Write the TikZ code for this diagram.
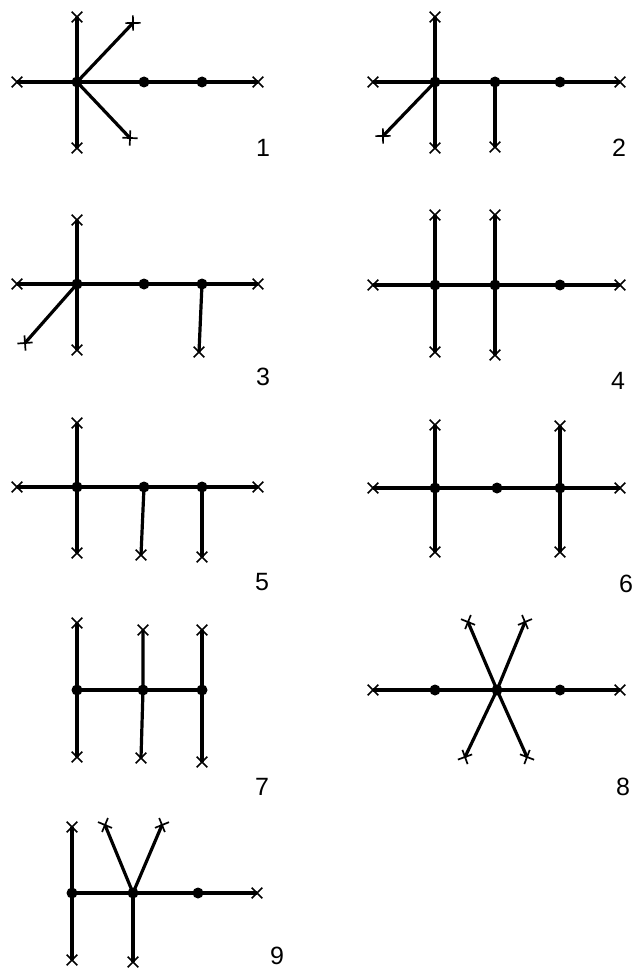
\documentclass[tikz,border=0pt]{standalone}
\usepackage{fontspec}
\setmainfont{Liberation Sans}
\usetikzlibrary{shapes.misc}

\begin{document}
\begin{tikzpicture}[x=1pt, y=-1pt,
		dot/.style={circle, fill=black, inner sep=0pt, minimum size=11pt},
		leaf/.style={cross out, draw, line width=1.7pt, inner sep=0pt, minimum size=9pt},
		edge/.style={line width=3.2pt},
		num/.style={font=\fontsize{25}{28}\selectfont}
		]
		
		\useasboundingbox (0,0) rectangle (636,971);
		
		% Graph 1
		\node[dot] (a1) at (77,82) {};
		\node[dot] (a2) at (144,82) {};
		\node[dot] (a3) at (202,82) {};
		\node[leaf] (a4) at (17,82) {};
		\node[leaf] (a5) at (258,82) {};
		\node[leaf] (a6) at (77,17) {};
		\node[leaf] (a7) at (77,148) {};
		\node[leaf, rotate=46] (a8) at (133,23) {};
		\node[leaf, rotate=-47] (a9) at (130,138) {};
		\node[num] (n1) at (263,148) {1};
		\draw[edge] (a4.center) -- (a1.center) -- (a2.center) -- (a3.center) -- (a5.center);
		\draw[edge] (a6.center) -- (a1.center) -- (a7.center);
		\draw[edge] (a8.center) -- (a1.center) -- (a9.center);
		
		% Graph 2
		\node[dot] (b1) at (435,82) {};
		\node[dot] (b2) at (495,82) {};
		\node[dot] (b3) at (560,82) {};
		\node[leaf] (b4) at (373,82) {};
		\node[leaf] (b5) at (620,82) {};
		\node[leaf] (b6) at (435,17) {};
		\node[leaf] (b7) at (435,148) {};
		\node[leaf] (b8) at (495,147) {};
		\node[leaf, rotate=46] (b9) at (383,136) {};
		\node[num] (n2) at (619,148) {2};
		\draw[edge] (b4.center) -- (b1.center) -- (b2.center) -- (b3.center) -- (b5.center);
		\draw[edge] (b6.center) -- (b1.center) -- (b7.center);
		\draw[edge] (b2.center) -- (b8.center);
		\draw[edge] (b1.center) -- (b9.center);
		
		% Graph 3
		\node[dot] (c1) at (77,284) {};
		\node[dot] (c2) at (144,284) {};
		\node[dot] (c3) at (202,284) {};
		\node[leaf] (c4) at (17,284) {};
		\node[leaf] (c5) at (258,284) {};
		\node[leaf] (c6) at (77,220) {};
		\node[leaf] (c7) at (77,350) {};
		\node[leaf] (c8) at (199,352) {};
		\node[leaf, rotate=49] (c9) at (25,343) {};
		\node[num] (n3) at (263,377) {3};
		\draw[edge] (c4.center) -- (c1.center) -- (c2.center) -- (c3.center) -- (c5.center);
		\draw[edge] (c6.center) -- (c1.center) -- (c7.center);
		\draw[edge] (c3.center) -- (c8.center);
		\draw[edge] (c1.center) -- (c9.center);
		
		% Graph 4
		\node[dot] (d1) at (435,285) {};
		\node[dot] (d2) at (495,285) {};
		\node[dot] (d3) at (560,285) {};
		\node[leaf] (d4) at (373,285) {};
		\node[leaf] (d5) at (620,285) {};
		\node[leaf] (d6) at (435,215) {};
		\node[leaf] (d7) at (435,352) {};
		\node[leaf] (d8) at (495,215) {};
		\node[leaf] (d9) at (495,355) {};
		\node[num] (n4) at (618,381) {4};
		\draw[edge] (d4.center) -- (d1.center) -- (d2.center) -- (d3.center) -- (d5.center);
		\draw[edge] (d6.center) -- (d1.center) -- (d7.center);
		\draw[edge] (d8.center) -- (d2.center) -- (d9.center);
		
		% Graph 5
		\node[dot] (e1) at (77,487) {};
		\node[dot] (e2) at (144,487) {};
		\node[dot] (e3) at (202,487) {};
		\node[leaf] (e4) at (17,487) {};
		\node[leaf] (e5) at (258,487) {};
		\node[leaf] (e6) at (77,423) {};
		\node[leaf] (e7) at (77,553) {};
		\node[leaf] (e8) at (141,555) {};
		\node[leaf] (e9) at (202,557) {};
		\node[num] (n5) at (262,582) {5};
		\draw[edge] (e4.center) -- (e1.center) -- (e2.center) -- (e3.center) -- (e5.center);
		\draw[edge] (e6.center) -- (e1.center) -- (e7.center);
		\draw[edge] (e2.center) -- (e8.center);
		\draw[edge] (e3.center) -- (e9.center);
		
		% Graph 6
		\node[dot] (f1) at (435,488) {};
		\node[dot] (f2) at (497,488) {};
		\node[dot] (f3) at (560,488) {};
		\node[leaf] (f4) at (373,488) {};
		\node[leaf] (f5) at (620,488) {};
		\node[leaf] (f6) at (435,425) {};
		\node[leaf] (f7) at (435,552) {};
		\node[leaf] (f8) at (560,426) {};
		\node[leaf] (f9) at (560,552) {};
		\node[num] (n6) at (626,584) {6};
		\draw[edge] (f4.center) -- (f1.center) -- (f2.center) -- (f3.center) -- (f5.center);
		\draw[edge] (f6.center) -- (f1.center) -- (f7.center);
		\draw[edge] (f8.center) -- (f3.center) -- (f9.center);
		
		% Graph 7
		\node[dot] (g1) at (77,690) {};
		\node[dot] (g2) at (143,690) {};
		\node[dot] (g3) at (202,690) {};
		\node[leaf] (g4) at (77,623) {};
		\node[leaf] (g5) at (77,757) {};
		\node[leaf] (g6) at (143,630) {};
		\node[leaf] (g7) at (141,758) {};
		\node[leaf] (g8) at (202,630) {};
		\node[leaf] (g9) at (202,762) {};
		\node[num] (n7) at (262,787) {7};
		\draw[edge] (g1.center) -- (g2.center) -- (g3.center);
		\draw[edge] (g4.center) -- (g1.center) -- (g5.center);
		\draw[edge] (g6.center) -- (g2.center) -- (g7.center);
		\draw[edge] (g8.center) -- (g3.center) -- (g9.center);
		
		% Graph 8
		\node[dot] (h1) at (435,690) {};
		\node[dot] (h2) at (497,690) {};
		\node[dot] (h3) at (560,690) {};
		\node[leaf] (h4) at (373,690) {};
		\node[leaf] (h5) at (620,690) {};
		\node[leaf, rotate=113] (h6) at (468,622) {};
		\node[leaf, rotate=68] (h7) at (525,622) {};
		\node[leaf, rotate=-115] (h8) at (465,757) {};
		\node[leaf, rotate=-66] (h9) at (527,757) {};
		\node[num] (n8) at (623,787) {8};
		\draw[edge] (h4.center) -- (h1.center) -- (h2.center) -- (h3.center) -- (h5.center);
		\draw[edge] (h6.center) -- (h2.center) -- (h9.center);
		\draw[edge] (h7.center) -- (h2.center) -- (h8.center);
		
		% Graph 9
		\node[dot] (k1) at (72,893) {};
		\node[dot] (k2) at (133,893) {};
		\node[dot] (k3) at (198,893) {};
		\node[leaf] (k4) at (257,893) {};
		\node[leaf] (k5) at (72,827) {};
		\node[leaf] (k6) at (72,960) {};
		\node[leaf, rotate=112] (k7) at (105,825) {};
		\node[leaf, rotate=67] (k8) at (162,825) {};
		\node[leaf] (k9) at (133,962) {};
		\node[num] (n9) at (277,956) {9};
		\draw[edge] (k1.center) -- (k2.center) -- (k3.center) -- (k4.center);
		\draw[edge] (k5.center) -- (k1.center) -- (k6.center);
		\draw[edge] (k7.center) -- (k2.center) -- (k8.center);
		\draw[edge] (k2.center) -- (k9.center);
		
	\end{tikzpicture}
\end{document}
